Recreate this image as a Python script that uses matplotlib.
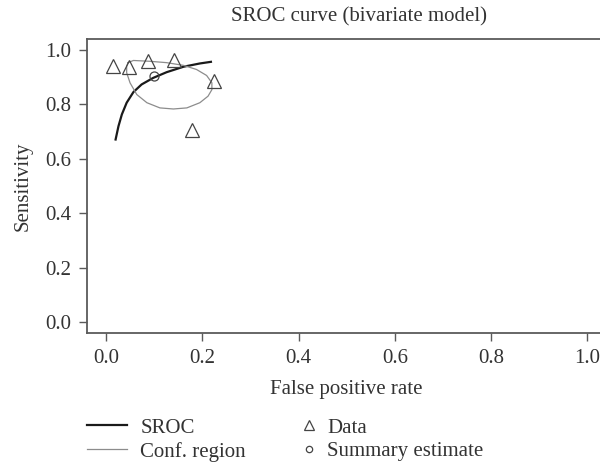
import numpy as np
import matplotlib
matplotlib.use("Agg")
from matplotlib import pyplot as plt

# data
data_fpr = [0.015, 0.048, 0.087, 0.142, 0.225, 0.179]
data_sens = [0.940, 0.936, 0.958, 0.961, 0.885, 0.705]

summary_fpr = [0.100]
summary_sens = [0.904]

sroc_fpr = [0.020, 0.026, 0.033, 0.043, 0.057, 0.074, 0.098, 0.126, 0.161, 0.195, 0.218]
sroc_sens = [0.671, 0.720, 0.763, 0.806, 0.845, 0.873, 0.897, 0.918, 0.938, 0.950, 0.956]

conf_fpr = [0.046, 0.057, 0.091, 0.126, 0.161, 0.188, 0.209, 0.220, 0.220, 0.212,
            0.195, 0.168, 0.140, 0.112, 0.085, 0.064, 0.050, 0.043, 0.043, 0.046]
conf_sens = [0.953, 0.961, 0.958, 0.953, 0.943, 0.928, 0.906, 0.879, 0.854, 0.830,
             0.806, 0.787, 0.783, 0.787, 0.806, 0.836, 0.879, 0.916, 0.940, 0.953]

ticks = [0.0, 0.2, 0.4, 0.6, 0.8, 1.0]

plt.rcParams['font.family'] = ['Liberation Serif', 'DejaVu Serif']
fs = 15

fig = plt.figure(figsize=(6, 4.68), dpi=100)
ax = fig.add_axes([0.1445, 0.2878, 0.8667, 0.629])

sroc_line, = ax.plot(sroc_fpr, sroc_sens, color='#1a1a1a', lw=1.6, label='SROC')
conf_line, = ax.plot(conf_fpr, conf_sens, color='#8c8c8c', lw=0.9, label='Conf. region')
data_pts, = ax.plot(data_fpr, data_sens, ls='none', marker='^', ms=9.5, mfc='none',
                    mec='#444444', mew=0.9, label='Data')
summ_pts, = ax.plot(summary_fpr, summary_sens, ls='none', marker='o', ms=6.5, mfc='none',
                    mec='#444444', mew=0.9, label='Summary estimate')

ax.set_xlim(-0.04, 1.04)
ax.set_ylim(-0.04, 1.04)
ax.set_xticks(ticks)
ax.set_yticks(ticks)
ax.set_xticklabels(['{:.1f}'.format(t) for t in ticks])
ax.set_yticklabels(['{:.1f}'.format(t) for t in ticks])
for s in ax.spines.values():
  s.set_color('#5a5a5a')
  s.set_linewidth(1.3)
ax.tick_params(direction='out', length=6, width=1, color='#5a5a5a', labelsize=fs,
               labelcolor='#333333', pad=5)

ax.set_xlabel('False positive rate', fontsize=fs, color='#333333', labelpad=9)
ax.set_ylabel('Sensitivity', fontsize=fs, color='#333333', labelpad=9)
fig.text(0.598, 0.964, 'SROC curve (bivariate model)', fontsize=fs, color='#333333',
         ha='center', va='center')

leg1 = fig.legend(handles=[sroc_line, conf_line], loc='upper left',
                  bbox_to_anchor=(0.145, 0.107), frameon=False, fontsize=fs,
                  borderpad=0, borderaxespad=0, handlelength=1.9, handletextpad=0.65,
                  labelspacing=0.2, labelcolor='#333333')
leg2 = fig.legend(handles=[data_pts, summ_pts], loc='upper left',
                  bbox_to_anchor=(0.505, 0.107), frameon=False, fontsize=fs,
                  borderpad=0, borderaxespad=0, handlelength=0.6, handletextpad=0.55,
                  labelspacing=0.2, markerscale=0.7, labelcolor='#333333')

fig.savefig('out.png', dpi=100)
